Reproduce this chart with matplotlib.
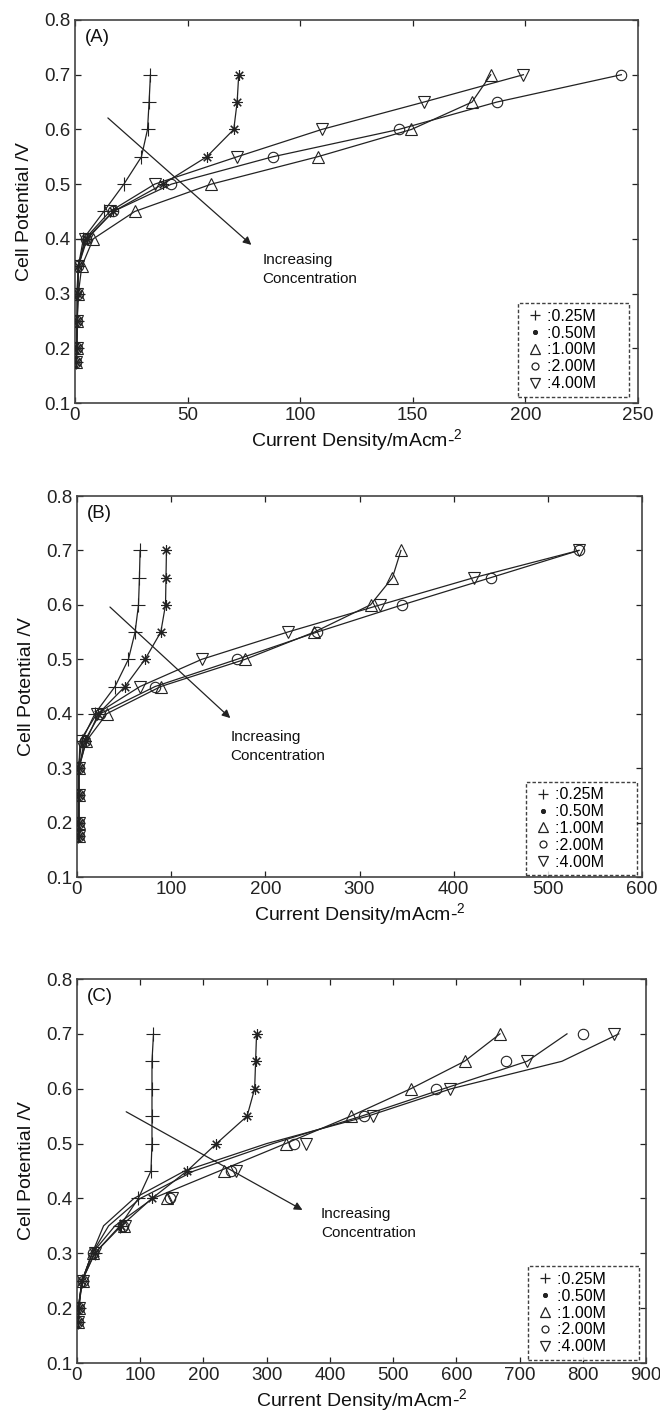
import matplotlib
matplotlib.use('Agg')
import matplotlib.pyplot as plt
from matplotlib.lines import Line2D

plt.rcParams['font.family'] = ['Liberation Sans', 'DejaVu Sans']
plt.rcParams['mathtext.fontset'] = 'custom'
plt.rcParams['mathtext.rm'] = 'Liberation Sans'
plt.rcParams['mathtext.it'] = 'Liberation Sans:italic'

# ---------------- data ----------------
potential = [0.175, 0.2, 0.25, 0.3, 0.35, 0.4, 0.45, 0.5, 0.55, 0.6, 0.65, 0.7]
concentrations = ['0.25M', '0.50M', '1.00M', '2.00M', '4.00M']

# Panel A (current density, mA cm-2)
a_025 = [0.5, 0.7, 1.0, 1.2, 1.5, 3.7, 12.8, 21.7, 29.5, 32.2, 32.9, 33.5]
a_050 = [0.5, 0.7, 1.0, 1.2, 1.5, 5.4, 17.0, 39.0, 58.5, 70.5, 72.0, 72.7]
a_100 = [0.5, 0.7, 1.0, 1.5, 3.0, 8.1, 26.5, 60.5, 107.7, 149.4, 176.3, 184.6]
a_200 = [0.5, 0.7, 1.0, 1.2, 1.5, 4.9, 17.0, 42.8, 87.8, 143.8, 187.3, 242.6]
a_400 = [0.5, 0.7, 1.0, 0.8, 1.5, 4.4, 15.5, 35.4, 72.0, 109.6, 154.9, 199.1]

# Panel B
b_025 = [1.4, 1.0, 1.4, 1.4, 5.0, 19.0, 40.4, 54.6, 61.7, 65.3, 66.3, 67.0]
b_050 = [2.0, 2.0, 2.0, 2.0, 9.6, 22.7, 51.0, 72.3, 89.0, 94.0, 94.5, 95.0]
b_100 = [2.0, 2.0, 2.0, 2.0, 10.0, 31.6, 89.0, 178.7, 252.0, 311.7, 335.0, 344.0]
b_200 = [2.0, 2.0, 2.0, 2.0, 8.0, 24.5, 83.0, 170.0, 255.0, 345.4, 439.4, 533.0]
b_400 = [2.0, 2.0, 2.0, 2.0, 3.2, 21.0, 67.0, 132.6, 223.7, 322.0, 421.6, 533.0]

# Panel C (measured points)
c_025 = [2, 3, 8, 28, 68, 97, 117, 118.6, 118.6, 118.6, 118.6, 121]
c_050 = [2, 3, 8, 28, 70, 118.5, 174, 220.6, 269, 281, 282.5, 284]
c_100 = [2, 3, 10, 25, 74, 142, 233, 330, 433, 528.6, 613, 669]
c_200 = [2, 3, 10, 25, 72, 147.6, 243, 343, 454.5, 568, 679, 801]
c_400 = [2, 3, 10, 28, 76, 150, 250.8, 362, 467.8, 589.4, 711, 848.7]

# Panel C model curves (lines)
c_fit_025 = c_025
c_fit_050 = c_050
c_fit_100 = [1, 2, 8, 24, 60, 120, 225, 330, 433, 528, 613, 669]
c_fit_200 = [1, 2, 8, 24, 50, 100, 185, 310, 450, 580, 712, 775]
c_fit_400 = [1, 2, 8, 24, 42, 90, 170, 300, 460, 592, 767, 857]

panels = [
    dict(tag='(A)', xmax=250, xstep=50,
         pts=[a_025, a_050, a_100, a_200, a_400],
         fits=[a_025, a_050, a_100, a_200, a_400],
         arrow=((14.6, 0.621), (78.3, 0.389)), text=(83.2, 0.374),
         rect=[75/660, 1-403/1414, 563/660, 383/1414],
         leg=(0.984, 0.016)),
    dict(tag='(B)', xmax=600, xstep=100,
         pts=[b_025, b_050, b_100, b_200, b_400],
         fits=[b_025, b_050, b_100, b_200, b_400],
         arrow=((35.0, 0.596), (162.8, 0.392)), text=(162.8, 0.370),
         rect=[77/660, 1-877/1414, 565/660, 381/1414],
         leg=(0.991, 0.004)),
    dict(tag='(C)', xmax=900, xstep=100,
         pts=[c_025, c_050, c_100, c_200, c_400],
         fits=[c_fit_025, c_fit_050, c_fit_100, c_fit_200, c_fit_400],
         arrow=((77.8, 0.558), (356.6, 0.379)), text=(385.7, 0.385),
         rect=[77/660, 1-1363/1414, 569/660, 384/1414],
         leg=(0.988, 0.008)),
]

markers = ['+', (8, 2, 0), '^', 'o', 'v']
msizes = [9.5, 7.5, 9, 7.5, 9]
leg_msizes = [7, 3.5, 7, 5, 7]
ink = '#222222'

fig = plt.figure(figsize=(6.6, 14.14), dpi=100)

for p in panels:
    ax = fig.add_axes(p['rect'])
    for k in range(5):
        ax.plot(p['fits'][k], potential, '-', color=ink, lw=0.9, zorder=2)
        ax.plot(p['pts'][k], potential, linestyle='none', marker=markers[k],
                ms=msizes[k], mfc='none', mec=ink, mew=0.8, zorder=3)
    ax.set_xlim(0, p['xmax'])
    ax.set_ylim(0.1, 0.8)
    ax.set_xticks(range(0, p['xmax'] + 1, p['xstep']))
    ax.set_yticks([0.1, 0.2, 0.3, 0.4, 0.5, 0.6, 0.7, 0.8])
    ax.set_yticklabels(['0.1', '0.2', '0.3', '0.4', '0.5', '0.6', '0.7', '0.8'])
    ax.tick_params(direction='in', top=True, right=True, length=4, width=0.9,
                   labelsize=13.5, pad=3, colors='#222222')
    for s in ax.spines.values():
        s.set_color('#444444')
        s.set_linewidth(1.2)
    ax.set_ylabel('Cell Potential /V', fontsize=14, labelpad=8, color='#111111')
    ax.set_xlabel('Current Density/mAcm-$^{2}$', fontsize=14, labelpad=2, color='#111111')
    ax.text(0.018, 0.955, p['tag'], transform=ax.transAxes, fontsize=13.5,
            va='center', ha='left', color='#111111')
    (x0, y0), (x1, y1) = p['arrow']
    ax.annotate('', xy=(x1, y1), xytext=(x0, y0),
                arrowprops=dict(arrowstyle='-|>', color=ink, lw=0.9,
                                mutation_scale=12, shrinkA=0, shrinkB=0))
    ax.text(p['text'][0], p['text'][1], 'Increasing\nConcentration',
            fontsize=11, va='top', ha='left', linespacing=1.45, color='#111111')

    handles = [Line2D([], [], linestyle='none', marker=markers[k], ms=leg_msizes[k],
                      mfc='none', mec=ink, mew=0.9) for k in range(5)]
    labels = [':' + c + '      ' for c in concentrations]
    leg = ax.legend(handles, labels, loc='lower right', bbox_to_anchor=p['leg'],
                    bbox_transform=ax.transAxes, borderaxespad=0, fontsize=11.5,
                    handlelength=1.5, handletextpad=0.0, labelspacing=0.12,
                    borderpad=0.35, frameon=True, fancybox=False)
    fr = leg.get_frame()
    fr.set_edgecolor('#111111')
    fr.set_linewidth(1.0)
    fr.set_linestyle((0, (2.5, 1.5)))
    fr.set_facecolor('white')

fig.savefig('out.png', dpi=100, facecolor='white')
